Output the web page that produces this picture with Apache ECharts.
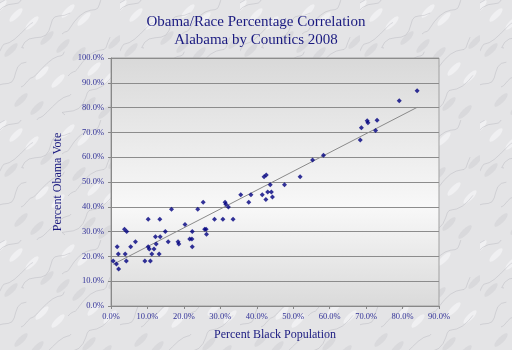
<!DOCTYPE html>
<html><head><meta charset="utf-8">
<script src="https://cdn.jsdelivr.net/npm/echarts@6/dist/echarts.min.js"></script>
<style>html,body{margin:0;padding:0;background:#e6e6e8}#c{width:512px;height:350px}</style>
</head><body><div id="c"></div>
<script>
var titleLines = ["Obama/Race Percentage Correlation", "Alabama by Countics 2008"];
var xAxisName = "Percent Black Population";
var yAxisName = "Percent Obama Vote";
// [percent black, percent Obama vote]
var blackPct = [0.6,1.7,2.0,1.5,2.1,3.7,4.3,3.9,4.2,5.4,6.7,9.3,10.8,10.2,10.2,10.5,11.2,11.8,12.2,12.4,13.2,13.4,13.5,14.9,15.7,16.6,18.4,18.6,20.3,21.6,22.2,22.3,22.3,23.8,25.3,25.7,26.1,26.2,28.4,30.7,31.3,31.5,32.2,33.5,35.6,37.8,38.4,41.5,42.0,42.6,42.5,43.0,43.7,44.0,44.3,47.6,51.9,55.3,58.3,68.4,68.7,70.3,70.5,73.0,72.6,79.1,84.0];
var obamaPct = [18.1,23.9,21.0,16.9,14.9,30.9,30.0,21.0,18.1,23.9,25.9,18.1,18.1,35.0,23.9,23.0,21.0,23.0,27.9,25.0,21.0,35.0,27.9,30.0,25.9,39.0,25.9,25.0,32.9,27.0,27.0,30.0,23.9,39.0,41.8,30.9,30.9,28.9,35.0,35.0,41.8,41.0,39.9,35.0,44.9,41.8,44.9,44.9,52.1,52.8,42.9,46.0,48.9,46.0,44.0,48.9,52.1,58.9,60.8,66.9,71.9,74.7,73.9,74.9,70.8,82.8,86.8];
var trendX = [0.6, 84.0];
var trendY = [16.8, 80.1];

var pts = blackPct.map(function(v,i){return [v/100, obamaPct[i]/100];});
var trend = trendX.map(function(v,i){return [v/100, trendY[i]/100];});

// subtle marble-like background texture (decorative)
var tex = document.createElement('canvas');
tex.width = 120; tex.height = 120;
var g = tex.getContext('2d');
g.fillStyle = '#e4e4e6'; g.fillRect(0,0,120,120);
for (var m = 0; m < 18; m++) {
  g.fillStyle = (m%2===0) ? 'rgba(250,250,252,0.55)' : 'rgba(205,205,210,0.5)';
  g.beginPath();
  g.ellipse((m*47)%120, (m*31+7)%120, 9, 3, -0.8, 0, Math.PI*2);
  g.fill();
}
for (var k = 0; k < 10; k++) {
  g.beginPath();
  var sx = (k*41)%120, sy = (k*67)%120;
  g.moveTo(sx-20, sy+20);
  for (var s = 0; s <= 12; s++) {
    var t = s/12;
    g.lineTo(sx-20 + t*45 + 3*Math.sin(t*9+k), sy+20 - t*38 + 3*Math.cos(t*11+k*2));
  }
  g.strokeStyle = 'rgba(170,170,178,0.35)';
  g.lineWidth = 1;
  g.stroke();
}

var chart = echarts.init(document.getElementById('c'), null, {renderer:'canvas'});
var serif = '"Liberation Serif", "DejaVu Serif", serif';
function pctFmt(v){return (v*100).toFixed(1)+'%';}
chart.setOption({
  animation:false,
  backgroundColor:{image:tex, repeat:'repeat'},
  title:{text:titleLines.join('\n'), left:'center', top:8,
    textStyle:{fontFamily:serif, fontSize:15, fontWeight:'normal', color:'#1a1a80', lineHeight:18}},
  grid:{left:111, right:73, top:58, bottom:44, show:true, borderColor:'#a0a0a0', borderWidth:1,
    backgroundColor:{type:'linear',x:0,y:0,x2:0,y2:1,colorStops:[{offset:0,color:'#d9d9d9'},{offset:0.6,color:'#f8f8f8'},{offset:1,color:'#dadada'}]}},
  xAxis:{type:'value', min:0, max:0.9, interval:0.1,
    name:xAxisName, nameLocation:'middle', nameGap:23,
    nameTextStyle:{fontFamily:serif, fontSize:12, color:'#1a1a80'},
    axisLine:{show:true,lineStyle:{color:'#888'}}, axisTick:{show:true,length:3,lineStyle:{color:'#888'}},
    splitLine:{show:false},
    axisLabel:{formatter:pctFmt, fontFamily:serif, fontSize:8.5, color:'#333399', margin:6}},
  yAxis:{type:'value', min:0, max:1, interval:0.1,
    name:yAxisName, nameLocation:'middle', nameGap:47, nameRotate:90,
    nameTextStyle:{fontFamily:serif, fontSize:12, color:'#1a1a80'},
    axisLine:{show:true,lineStyle:{color:'#888'}}, axisTick:{show:true,length:3,lineStyle:{color:'#888'}},
    splitLine:{show:true,lineStyle:{color:'#8c8c8c',width:1}},
    axisLabel:{formatter:pctFmt, fontFamily:serif, fontSize:8.5, color:'#333399', margin:7}},
  series:[
    {type:'line', data:trend, symbol:'none', lineStyle:{color:'#8a8a8a',width:1}, z:2, silent:true},
    {type:'scatter', data:pts, symbol:'diamond', symbolSize:5, itemStyle:{color:'#000080'}, z:3}
  ]
});
</script></body></html>
